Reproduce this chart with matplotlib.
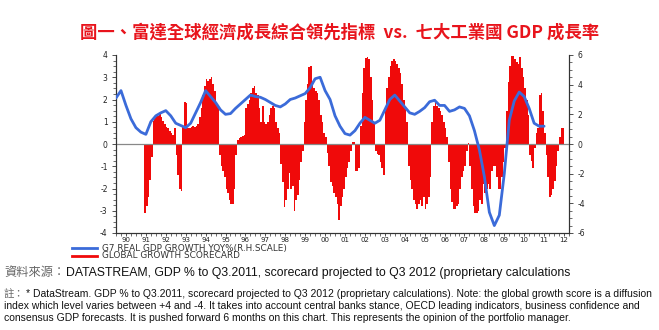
import matplotlib
matplotlib.use("Agg")
import matplotlib.pyplot as plt
import numpy as np
from matplotlib.lines import Line2D
from matplotlib.ticker import MultipleLocator, FixedLocator

# Global growth scorecard (left scale), monthly values starting June 1991
score_start = 1990 + 17 / 12
score = [
    -3.1, -2.8, -2.4, -1.6, -0.6, 1.05, 1.2, 1.3, 1.25, 1.35, 1.2, 1.05,
    0.9, 0.75, 0.7, 0.6, 0.5, 0.4, 0.7, -0.5, -1.4, -2.0, -2.1, 0.8,
    1.9, 1.85, 0.7, 0.7, 0.75, 0.8, 0.75, 0.8, 0.9, 1.2, 1.6, 2.2,
    2.6, 2.9, 2.85, 2.9, 3.0, 2.7, 2.4, 1.9, 1.7, -0.5, -1.0, -1.2,
    -1.5, -2.0, -2.2, -2.5, -2.7, -2.7, -2.0, -0.5, 0.2, 0.25, 0.3, 0.35,
    0.4, 1.6, 1.8, 2.0, 2.3, 2.5, 2.6, 2.3, 2.2, 1.6, 1.0, 1.7,
    1.0, 0.9, 1.0, 1.3, 1.6, 1.7, 1.6, 1.0, 0.7, 0.5, -0.9, -1.7,
    -2.85, -2.5, -2.0, -1.3, -2.0, -1.9, -3.0, -2.5, -2.3, -1.6, -0.8, -0.3,
    1.0, 2.0, 2.7, 3.45, 3.5, 2.8, 2.5, 2.4, 2.3, 2.0, 1.3, 1.0,
    0.5, 0.3, -0.4, -1.0, -1.7, -1.9, -2.2, -2.4, -2.7, -3.4, -2.8, -2.4,
    -2.0, -1.5, -1.1, -0.8, -0.3, 0.1, 0.1, -1.2, -1.2, -1.1, 0.8, 2.3,
    3.4, 3.85, 3.9, 3.8, 3.0, 2.0, 1.0, -0.3, -0.45, -0.5, -0.8, -1.1,
    -1.4, 1.5, 2.5, 3.0, 3.5, 3.75, 3.8, 3.75, 3.6, 3.4, 3.2, 2.7,
    2.0, 1.6, 1.0, -1.0, -1.6, -2.0, -2.5, -2.7, -2.9, -2.7, -2.5, -2.8,
    -2.4, -2.9, -2.7, -2.4, -1.5, 1.0, 1.7, 2.0, 1.7, 1.6, 1.5, 1.3,
    1.0, 0.7, 0.3, -0.8, -2.0, -2.6, -2.9, -2.9, -2.8, -2.7, -2.0, -1.5,
    -1.2, -1.0, -0.3, 0.05, -1.0, -2.0, -2.8, -3.1, -3.1, -3.0, -2.5, -2.7,
    -1.8, -2.2, -2.0, -1.8, -2.0, -1.2, -1.0, -1.0, -1.5, -2.0, -2.0, -1.5,
    -0.8, -0.2, 1.5, 2.8, 3.5, 3.95, 3.95, 3.8, 3.7, 3.6, 3.9, 3.4,
    3.0, 2.5, 2.0, 1.3, -0.5, -0.75, -1.1, -0.2, 0.5, 0.7, 2.2, 2.3,
    1.5, 0.5, -0.5, -1.5, -2.4, -2.3, -2.0, -1.65, -1.0, -0.3, 0.3, 0.7, 0.7,
]

# G7 real GDP growth yoy % (right scale), quarterly from 1990 Q1
gdp_start = 1990.0
gdp = [
    3.1, 3.6, 2.6, 1.7, 1.1, 0.8, 0.65, 1.5,
    1.9, 2.1, 2.25, 1.9, 1.4, 1.25, 1.1, 1.4,
    2.1, 2.8, 3.6, 3.2, 2.8, 2.3, 2.0, 2.05,
    2.4, 2.7, 3.0, 3.3, 3.2, 3.15, 3.0, 2.8,
    2.6, 2.5, 2.7, 3.0, 3.1, 3.25, 3.4, 3.8,
    4.4, 4.5, 3.6, 3.0, 1.9, 1.2, 0.7, 0.6,
    0.9, 1.4, 1.8, 1.6, 1.4, 1.6, 2.3, 3.0,
    3.3, 2.9, 2.5, 2.1, 2.0, 2.2, 2.45, 2.85,
    2.95, 2.6, 2.6, 2.2, 2.3, 2.5, 2.4, 1.9,
    0.9, -0.4, -2.2, -4.6, -5.5, -4.8, -2.0, 1.6,
    2.9, 3.5, 3.2, 2.4, 1.4, 1.2, 1.2,
]

year_labels = ['90', '91', '92', '93', '94', '95', '96', '97', '98', '99', '00',
               '01', '02', '03', '04', '05', '06', '07', '08', '09', '10', '11', '12']
left_ticks = [4, 3, 2, 1, 0, -1, -2, -3, -4]
right_ticks = [6, 4, 2, 0, -2, -4, -6]

title = '圖一、富達全球經濟成長綜合領先指標  vs.  七大工業國 GDP 成長率'
legend_gdp = 'G7 REAL GDP GROWTH YOY%(R.H.SCALE)'
legend_score = 'GLOBAL GROWTH SCORECARD'
source_head = '資料來源：'
source_body = 'DATASTREAM, GDP % to Q3.2011, scorecard projected to Q3 2012 (proprietary calculations'
note_head = '註：'
note_lines = [
    '* DataStream. GDP % to Q3.2011, scorecard projected to Q3 2012 (proprietary calculations). Note: the global growth score is a diffusion',
    'index which level varies between +4 and -4. It takes into account central banks stance, OECD leading indicators, business confidence and',
    'consensus GDP forecasts. It is pushed forward 6 months on this chart. This represents the opinion of the portfolio manager.',
]

RED = '#f00a0a'
BLUE = '#3b6bd9'
AXIS = '#333333'
W, H = 659, 330

fig = plt.figure(figsize=(W / 100, H / 100), dpi=100)
fig.patch.set_facecolor('white')


def fx(px):
    return px / W


def fy(py):
    return 1 - py / H


ax = fig.add_axes([fx(116), fy(233), fx(569 - 116), (233 - 55) / H])
ax2 = ax.twinx()

# scorecard bars
score_x = score_start + np.arange(len(score)) / 12
ax.bar(score_x, score, width=1 / 12, align='edge', color=RED, linewidth=0, zorder=2)
ax.axhline(0, color='#888888', linewidth=0.9, zorder=3)

# GDP line
gdp_x = gdp_start + np.arange(len(gdp)) / 4
ax2.plot(gdp_x, gdp, color=BLUE, linewidth=2.0, solid_capstyle='round', zorder=4)

ax.set_xlim(1990, 2012.75)
ax.set_ylim(-4, 4)
ax2.set_ylim(-6, 6)

for a in (ax, ax2):
    a.spines['top'].set_visible(False)
    for s in ('left', 'right', 'bottom'):
        a.spines[s].set_color(AXIS)
        a.spines[s].set_linewidth(0.8)

ax.yaxis.set_major_locator(FixedLocator(left_ticks))
ax.yaxis.set_minor_locator(MultipleLocator(0.25))
ax.set_yticklabels([str(t) for t in left_ticks])
ax2.yaxis.set_major_locator(FixedLocator(right_ticks))
ax2.yaxis.set_minor_locator(MultipleLocator(0.5))
ax2.set_yticklabels([str(t) for t in right_ticks])

ax.xaxis.set_major_locator(FixedLocator([1990.5 + i for i in range(len(year_labels))]))
ax.set_xticklabels(year_labels)
ax.xaxis.set_minor_locator(MultipleLocator(0.25))

for a in (ax, ax2):
    a.tick_params(axis='both', which='major', labelsize=5.5, labelcolor='#222222',
                  color=AXIS, length=3, width=0.6, pad=3)
    a.tick_params(axis='both', which='minor', color=AXIS, length=2, width=0.5)
ax.tick_params(axis='x', which='major', length=2, pad=0.8, labelsize=5)

# title
fig.text(fx(340), fy(33), title, color='#e8141c', fontsize=12.5, fontweight='bold',
         ha='center', va='center', family=['Noto Sans CJK TC', 'DejaVu Sans'])

# legend
fig.add_artist(Line2D([fx(72), fx(97)], [fy(248), fy(248)], color=BLUE, linewidth=2.0))
fig.add_artist(Line2D([fx(72), fx(97)], [fy(255.5), fy(255.5)], color=RED, linewidth=2.0))
fig.text(fx(102), fy(248), legend_gdp, fontsize=6.4, color='#333333', va='center', ha='left')
fig.text(fx(102), fy(255.5), legend_score, fontsize=6.4, color='#333333', va='center', ha='left')

# source and note: grey Chinese heading followed by the English text
foot_family = ['Liberation Sans', 'Noto Sans CJK TC']
renderer = fig.canvas.get_renderer()


def head_and_body(y, head, body, size, head_size):
    t = fig.text(fx(4), fy(y), head, fontsize=head_size, color='#666666', va='center',
                 ha='left', family=foot_family)
    bb = t.get_window_extent(renderer=renderer)
    fig.text(bb.x1 / W + fx(1), fy(y), body, fontsize=size, color='#111111', va='center',
             ha='left', family=foot_family)


head_and_body(273, source_head, source_body, 8.8, 8.8)
head_and_body(294, note_head, note_lines[0], 7.5, 7.5)
for i, line in enumerate(note_lines[1:], start=1):
    fig.text(fx(4), fy(294 + 12 * i), line, fontsize=7.5, color='#111111', va='center',
             ha='left', family=foot_family)

fig.savefig('out.png', dpi=100, facecolor='white')
